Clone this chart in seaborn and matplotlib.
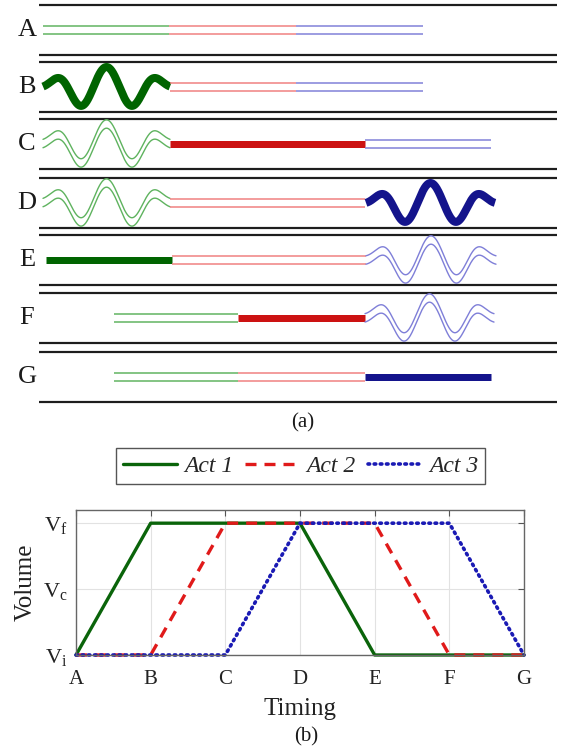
import numpy as np
import pandas as pd
import matplotlib
matplotlib.use("Agg")
import matplotlib.pyplot as plt
import seaborn as sns

# ---------------- Panel (b) data ----------------
timing_labels = ["A", "B", "C", "D", "E", "F", "G"]
volume_ticks = [0, 1, 2]
volume_labels = [r"V$_\mathregular{i}$", r"V$_\mathregular{c}$", r"V$_\mathregular{f}$"]
act1 = [0, 2, 2, 2, 0, 0, 0]
act2 = [0, 0, 2, 2, 2, 0, 0]
act3 = [0, 0, 0, 2, 2, 2, 0]
series_names = ["Act 1", "Act 2", "Act 3"]

# ---------------- Panel (a) schematic data (pixel units) ----------------
row_labels = ["A", "B", "C", "D", "E", "F", "G"]
row_tops = [5, 62, 119, 178, 235, 293, 352]
channel_height = 50
wall_x = [39, 557]
green_x = [(43, 169), (43, 170), (43, 170), (43, 170), (46, 172), (114, 238), (114, 238)]
red_x = [(169, 296), (170, 296), (170, 365), (170, 365), (172, 366), (238, 365), (238, 365)]
blue_x = [(296, 423), (296, 423), (365, 491), (366, 495), (366, 496), (365, 494), (365, 491)]
green_state = ["double", "wave", "double_wave", "double_wave", "thick", "double", "double"]
red_state = ["double", "double", "thick", "double", "double", "thick", "double"]
blue_state = ["double", "double", "double", "wave", "double_wave", "double_wave", "thick"]

light_colors = {"green": "#5fb35f", "red": "#f07f7f", "blue": "#7f7fd8"}
dark_colors = {"green": "#006400", "red": "#cc1212", "blue": "#14148c"}

sns.set_theme(style="white")
plt.rcParams["font.family"] = ["Liberation Serif", "DejaVu Serif"]
plt.rcParams["mathtext.fontset"] = "custom"
plt.rcParams["mathtext.rm"] = "Liberation Serif"
plt.rcParams["mathtext.it"] = "Liberation Serif:italic"

W, H = 565, 756
fig = plt.figure(figsize=(W / 100, H / 100), dpi=100)
fig.patch.set_facecolor("white")

# ---- schematic axes in pixel coordinates ----
axs = fig.add_axes([0, 0, 1, 1])
axs.set_xlim(0, W)
axs.set_ylim(H, 0)
axs.axis("off")

PX = 0.72  # points per pixel
half_gap = 4.2
wave_amp = 20
wave_period = 52
wave_env = 53


def wave_y(x, x0, x1, yc):
    xc = (x0 + x1) / 2.0
    u = x - xc
    return yc - wave_amp * np.cos(2 * np.pi * u / wave_period) * np.exp(-(u / wave_env) ** 4)


def draw_segment(ax, x0, x1, yc, state, cname):
    lc, dc = light_colors[cname], dark_colors[cname]
    if state == "double":
        for s in (-half_gap, half_gap):
            ax.plot([x0, x1], [yc + s, yc + s], color=lc, lw=1.5 * PX, solid_capstyle="butt")
    elif state == "thick":
        ax.plot([x0, x1], [yc, yc], color=dc, lw=7 * PX, solid_capstyle="butt")
    else:
        xs = np.linspace(x0, x1, 300)
        ys = wave_y(xs, x0, x1, yc)
        if state == "wave":
            ax.plot(xs, ys, color=dc, lw=8 * PX, solid_capstyle="butt", solid_joinstyle="round")
        else:
            for s in (-half_gap, half_gap):
                ax.plot(xs, ys + s, color=lc, lw=1.4 * PX)


for i, lab in enumerate(row_labels):
    top = row_tops[i]
    bot = top + channel_height
    yc = top + channel_height / 2.0
    for yy in (top, bot):
        axs.plot(wall_x, [yy, yy], color="#1e1e1e", lw=2.2 * PX, solid_capstyle="butt")
    draw_segment(axs, *green_x[i], yc, green_state[i], "green")
    draw_segment(axs, *red_x[i], yc, red_state[i], "red")
    draw_segment(axs, *blue_x[i], yc, blue_state[i], "blue")
    axs.text(27, yc, lab, fontsize=19, ha="center", va="center", color="#1a1a1a")

axs.text(303, 423, "(a)", fontsize=15, ha="center", va="center", color="#1a1a1a")
axs.text(306, 737, "(b)", fontsize=15, ha="center", va="center", color="#1a1a1a")

# ---- line plot axes ----
left, right, top_px, bot_px = 76, 524, 510, 655
ax = fig.add_axes([left / W, 1 - bot_px / H, (right - left) / W, (bot_px - top_px) / H])

x_pos = np.arange(len(timing_labels))
df = pd.DataFrame({"Timing": np.tile(x_pos, 3),
                   "Volume": act1 + act2 + act3,
                   "Act": np.repeat(series_names, len(x_pos))})

styles = {
    "Act 1": dict(color="#0a640a", linestyle="-", lw=2.4),
    "Act 2": dict(color="#e01a1a", linestyle=(0, (3.3, 2.4)), lw=2.4),
    "Act 3": dict(color="#1a1ab4", linestyle=(0, (0.45, 1.25)), dash_capstyle="round", lw=2.6),
}
for name in series_names:
    sub = df[df["Act"] == name]
    sns.lineplot(data=sub, x="Timing", y="Volume", ax=ax, label=name,
                 clip_on=False, estimator=None, **styles[name])

ax.set_xlim(0, 6)
ax.set_ylim(0, 2.2)
ax.set_xticks(x_pos)
ax.set_xticklabels(timing_labels, fontsize=15)
ax.set_yticks(volume_ticks)
ax.set_yticklabels(volume_labels, fontsize=16)
ax.grid(True, color="#e2e2e2", lw=0.8)
ax.set_axisbelow(True)
ax.tick_params(axis="both", direction="in", length=4, width=0.8, color="#555555",
               top=True, right=True, labelcolor="#222222")
ax.tick_params(axis="x", pad=11)
ax.tick_params(axis="y", pad=6)
for sp in ax.spines.values():
    sp.set_color("#666666")
    sp.set_linewidth(1.0)

ax.set_xlabel("Timing", fontsize=18, color="#222222")
ax.set_ylabel("Volume", fontsize=18, color="#222222")
ax.xaxis.set_label_coords(0.5, (bot_px - 698) / (bot_px - top_px))
ax.xaxis.label.set_va("top")
ax.yaxis.set_label_coords((37 - left) / (right - left), 0.5)

leg = ax.legend(loc="center", bbox_to_anchor=(300.5 / W, 1 - 466 / H),
                bbox_transform=fig.transFigure, ncol=3, frameon=True, fancybox=False,
                handlelength=2.3, handletextpad=0.3, columnspacing=0.5, borderpad=0.3,
                prop={"family": "Liberation Serif", "style": "italic", "size": 17})
leg.get_frame().set_edgecolor("#555555")
leg.get_frame().set_linewidth(1.0)
leg.get_frame().set_alpha(1)

fig.savefig("out.png", dpi=100, facecolor="white")
